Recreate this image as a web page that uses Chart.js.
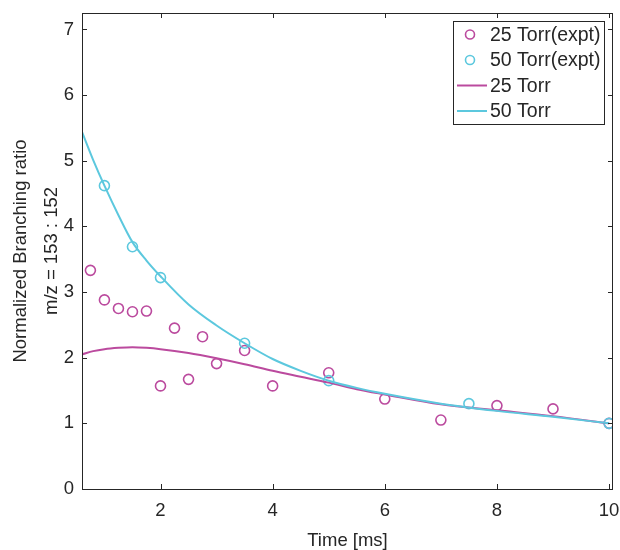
<!DOCTYPE html>
<html>
<head>
<meta charset="utf-8">
<script src="https://cdn.jsdelivr.net/npm/chart.js@4.4.1/dist/chart.umd.min.js"></script>
<style>
  body { margin: 0; background: #fff; }
  #wrap { width: 620px; height: 550px; }
</style>
</head>
<body>
<div id="wrap"><canvas id="branchChart" width="620" height="550"></canvas></div>
<script>
// measured points
const time25 = [0.75, 1.0, 1.25, 1.5, 1.75, 2.0, 2.25, 2.5, 2.75, 3.0, 3.5, 4.0, 5.0, 6.0, 7.0, 8.0, 9.0, 10.0];
const ratio25 = [3.33, 2.88, 2.75, 2.70, 2.71, 1.57, 2.45, 1.67, 2.32, 1.91, 2.11, 1.57, 1.77, 1.37, 1.05, 1.27, 1.22, 1.0];
const time50 = [1.0, 1.5, 2.0, 3.5, 5.0, 7.5, 10.0];
const ratio50 = [4.62, 3.69, 3.22, 2.22, 1.65, 1.30, 1.0];

// model curves
const modelTime = [0.6, 0.8, 1.0, 1.25, 1.5, 1.75, 2.0, 2.5, 3.0, 3.5, 4.0, 4.5, 5.0, 5.5, 6.0, 7.0, 8.0, 9.0, 10.0];
const model25 = [2.05, 2.10, 2.13, 2.15, 2.16, 2.15, 2.13, 2.07, 1.99, 1.90, 1.80, 1.71, 1.62, 1.52, 1.44, 1.29, 1.20, 1.11, 1.0];
const model50 = [5.44, 5.01, 4.62, 4.17, 3.76, 3.48, 3.24, 2.81, 2.49, 2.22, 1.98, 1.80, 1.65, 1.54, 1.45, 1.30, 1.19, 1.10, 1.0];

const xTicks = [2, 4, 6, 8, 10];
const yTicks = [0, 1, 2, 3, 4, 5, 6, 7];

const magenta = '#bb4a9e';
const cyan = '#5cc8de';
const axisColor = '#262626';
const fontFamily = '"Liberation Sans", Arial, Helvetica, sans-serif';

const pts = (xs, ys) => xs.map((x, i) => ({ x: x, y: ys[i] }));

// box around the axes with inward tick marks on all sides
const boxTicks = {
    id: 'boxTicks',
    afterDatasetsDraw(chart) {
        const { ctx, chartArea: a, scales } = chart;
        const len = 5;
        ctx.save();
        ctx.strokeStyle = axisColor;
        ctx.lineWidth = 1;
        ctx.strokeRect(a.left + 0.5, a.top + 0.5, a.right - a.left - 1, a.bottom - a.top);
        ctx.beginPath();
        xTicks.forEach(v => {
            const px = Math.round(scales.x.getPixelForValue(v)) + 0.5;
            ctx.moveTo(px, a.bottom); ctx.lineTo(px, a.bottom - len);
            ctx.moveTo(px, a.top); ctx.lineTo(px, a.top + len);
        });
        yTicks.forEach(v => {
            const py = Math.round(scales.y.getPixelForValue(v)) + 0.5;
            ctx.moveTo(a.left, py); ctx.lineTo(a.left + len, py);
            ctx.moveTo(a.right, py); ctx.lineTo(a.right - len, py);
        });
        ctx.stroke();
        ctx.restore();
    }
};

// legend box in the upper right corner
const boxLegend = {
    id: 'boxLegend',
    afterDraw(chart) {
        const { ctx } = chart;
        const items = [
            { text: '25 Torr(expt)', color: magenta, marker: true },
            { text: '50 Torr(expt)', color: cyan, marker: true },
            { text: '25 Torr', color: magenta, marker: false },
            { text: '50 Torr', color: cyan, marker: false }
        ];
        const x0 = 453, y0 = 21, w = 151, h = 103;
        ctx.save();
        ctx.fillStyle = '#fff';
        ctx.fillRect(x0, y0, w, h);
        ctx.strokeStyle = axisColor;
        ctx.lineWidth = 1;
        ctx.strokeRect(x0 + 0.5, y0 + 0.5, w, h);
        ctx.font = '19.5px ' + fontFamily;
        ctx.textBaseline = 'middle';
        ctx.textAlign = 'left';
        items.forEach((it, i) => {
            const cy = y0 + 13.5 + i * 25.5;
            ctx.strokeStyle = it.color;
            ctx.lineWidth = it.marker ? 1.6 : 2;
            ctx.beginPath();
            if (it.marker) {
                ctx.arc(470, cy, 4.5, 0, Math.PI * 2);
            } else {
                ctx.moveTo(457, cy); ctx.lineTo(487, cy);
            }
            ctx.stroke();
            ctx.fillStyle = axisColor;
            ctx.fillText(it.text, 490, cy + 1);
        });
        ctx.restore();
    }
};

new Chart(document.getElementById('branchChart'), {
    type: 'scatter',
    data: {
        datasets: [
            {
                label: '25 Torr(expt)',
                data: pts(time25, ratio25),
                borderColor: magenta,
                backgroundColor: 'rgba(0,0,0,0)',
                pointRadius: 5,
                pointBorderWidth: 1.6,
                showLine: false,
                order: 4
            },
            {
                label: '50 Torr(expt)',
                data: pts(time50, ratio50),
                borderColor: cyan,
                backgroundColor: 'rgba(0,0,0,0)',
                pointRadius: 5,
                pointBorderWidth: 1.6,
                showLine: false,
                order: 3
            },
            {
                type: 'line',
                label: '25 Torr',
                data: pts(modelTime, model25),
                borderColor: magenta,
                borderWidth: 2,
                pointRadius: 0,
                cubicInterpolationMode: 'monotone',
                fill: false,
                order: 2
            },
            {
                type: 'line',
                label: '50 Torr',
                data: pts(modelTime, model50),
                borderColor: cyan,
                borderWidth: 2,
                pointRadius: 0,
                cubicInterpolationMode: 'monotone',
                fill: false,
                order: 1
            }
        ]
    },
    options: {
        responsive: false,
        animation: false,
        layout: { padding: { top: 13, right: 7, bottom: 0, left: 0 } },
        plugins: {
            legend: { display: false },
            tooltip: { enabled: false }
        },
        scales: {
            x: {
                type: 'linear',
                min: 0.6,
                max: 10.07,
                afterBuildTicks: (scale) => { scale.ticks = xTicks.map(v => ({ value: v })); },
                afterFit: (scale) => {
                    scale.height = 61;
                    scale.paddingLeft = 0;
                    scale.paddingRight = 0;
                },
                grid: { display: false, drawTicks: false },
                border: { display: false },
                ticks: {
                    color: axisColor,
                    padding: 11,
                    maxRotation: 0,
                    font: { family: fontFamily, size: 18.5 }
                },
                title: {
                    display: true,
                    text: 'Time [ms]',
                    color: axisColor,
                    padding: { top: 0, bottom: 0 },
                    font: { family: fontFamily, size: 18.5, lineHeight: 1.0 }
                }
            },
            y: {
                type: 'linear',
                min: 0,
                max: 7.25,
                afterBuildTicks: (scale) => { scale.ticks = yTicks.map(v => ({ value: v })); },
                afterFit: (scale) => {
                    scale.width = 82;
                    scale.paddingTop = 0;
                    scale.paddingBottom = 0;
                },
                grid: { display: false, drawTicks: false },
                border: { display: false },
                ticks: {
                    color: axisColor,
                    padding: 8,
                    font: { family: fontFamily, size: 18.5 }
                },
                title: {
                    display: true,
                    text: ['Normalized Branching ratio', 'm/z = 153 : 152'],
                    color: axisColor,
                    padding: { top: 6, bottom: 0 },
                    font: { family: fontFamily, size: 18.5, lineHeight: 1.65 }
                }
            }
        }
    },
    plugins: [boxTicks, boxLegend]
});
</script>
</body>
</html>
